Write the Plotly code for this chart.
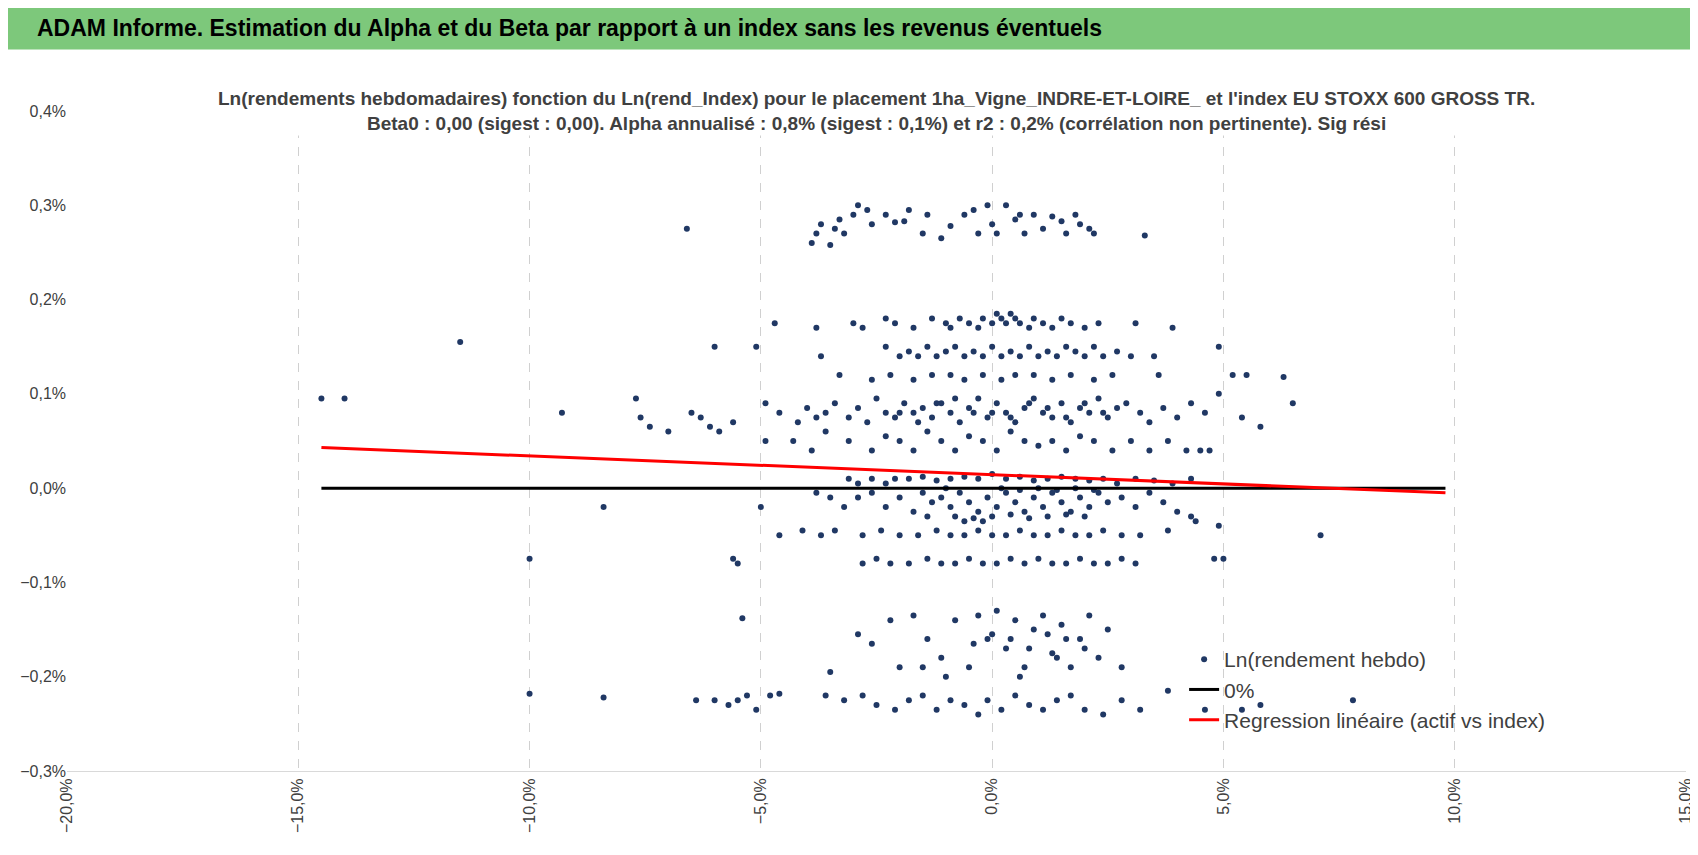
import plotly.graph_objects as go

# Ln(rendement hebdo) points, read by horizontal band (x = index return %, y = asset return %)
x_band_030 = [-6.6, -3.9, -3.8, -3.7, -3.5, -3.4, -3.3, -3.2, -3.0, -2.9, -2.7, -2.6, -2.3, -2.1, -1.9, -1.8, -1.5, -1.4,
              -1.1, -0.9, -0.6, -0.4, -0.3, -0.1, 0.0, 0.1, 0.3, 0.5, 0.6, 0.7, 0.9, 1.1, 1.3, 1.5, 1.6, 1.8, 1.9, 2.1, 2.2, 3.3]
y_band_030 = [0.275, 0.26, 0.27, 0.28, 0.258, 0.275, 0.285, 0.27, 0.29, 0.3, 0.295, 0.28, 0.29, 0.282, 0.283, 0.295, 0.27, 0.29,
              0.265, 0.278, 0.29, 0.295, 0.27, 0.3, 0.28, 0.27, 0.3, 0.285, 0.29, 0.27, 0.29, 0.275, 0.288, 0.283, 0.27, 0.29, 0.28, 0.275, 0.27, 0.268]

x_band_017 = [-11.5, -4.7, -3.8, -3.0, -2.8, -2.3, -2.1, -1.7, -1.3, -1.0, -0.9, -0.7, -0.5, -0.3, -0.2, 0.0, 0.1, 0.2, 0.3,
              0.4, 0.5, 0.6, 0.8, 0.9, 1.1, 1.3, 1.5, 1.7, 2.0, 2.3, 3.1, 3.9]
y_band_017 = [0.155, 0.175, 0.17, 0.175, 0.17, 0.18, 0.175, 0.17, 0.18, 0.175, 0.17, 0.18, 0.175, 0.17, 0.18, 0.175, 0.185, 0.18, 0.175,
              0.185, 0.18, 0.175, 0.17, 0.18, 0.175, 0.17, 0.18, 0.175, 0.17, 0.175, 0.175, 0.17]

x_band_014 = [-6.0, -5.1, -3.7, -2.3, -2.0, -1.8, -1.6, -1.4, -1.2, -1.0, -0.8, -0.6, -0.4, -0.2, 0.0, 0.2, 0.4, 0.6, 0.8, 1.0,
              1.2, 1.4, 1.6, 1.8, 2.0, 2.2, 2.4, 2.7, 3.0, 3.5, 4.9, 5.2, 6.3]
y_band_014 = [0.15, 0.15, 0.14, 0.15, 0.14, 0.145, 0.14, 0.15, 0.14, 0.145, 0.15, 0.14, 0.145, 0.14, 0.15, 0.14, 0.145, 0.14, 0.15, 0.14,
              0.145, 0.14, 0.15, 0.145, 0.14, 0.15, 0.14, 0.145, 0.14, 0.14, 0.15, 0.12, 0.118]

x_band_012 = [-3.3, -2.6, -2.2, -1.7, -1.3, -0.9, -0.6, -0.2, 0.2, 0.5, 0.9, 1.3, 1.7, 2.2, 2.6, 3.6, 4.9, 5.5]
y_band_012 = [0.12, 0.115, 0.12, 0.115, 0.12, 0.12, 0.115, 0.12, 0.115, 0.12, 0.12, 0.115, 0.12, 0.115, 0.12, 0.12, 0.1, 0.12]

x_band_008 = [-14.5, -14.0, -9.3, -7.7, -7.6, -7.4, -7.0, -6.5, -6.3, -6.1, -5.9, -5.6, -4.9, -4.6, -4.2, -4.0, -3.8, -3.6, -3.4,
              -3.1, -2.9, -2.7, -2.5, -2.3, -2.1, -1.9, -1.7, -1.5, -1.3, -1.1, -0.9, -0.7, -0.5, -0.3, -0.1, 0.1, 0.3,
              0.5, 0.7, 0.9, 1.1, 1.3, 1.5, 1.7, 1.9, 2.1, 2.3, 2.5, 2.7, 2.9, 3.2, 3.4, 3.7, 4.0, 4.3, 4.6, 5.4, 5.8, 6.5,
              -2.0, -1.2, -0.4, 0.4, 1.2, 2.0, -1.6, -0.8, 0.0, 0.8, 1.6, 2.4]
y_band_008 = [0.095, 0.095, 0.08, 0.095, 0.075, 0.065, 0.06, 0.08, 0.075, 0.065, 0.06, 0.07, 0.09, 0.08, 0.07, 0.085, 0.075, 0.08, 0.09,
              0.075, 0.085, 0.07, 0.095, 0.08, 0.075, 0.09, 0.08, 0.085, 0.075, 0.09, 0.08, 0.07, 0.085, 0.095, 0.075, 0.09, 0.08,
              0.07, 0.085, 0.095, 0.08, 0.075, 0.09, 0.07, 0.085, 0.08, 0.095, 0.075, 0.085, 0.09, 0.08, 0.07, 0.085, 0.075, 0.09, 0.08, 0.075, 0.065, 0.09,
              0.08, 0.09, 0.08, 0.075, 0.085, 0.09, 0.07, 0.095, 0.08, 0.09, 0.075, 0.08]

x_band_005 = [-4.9, -4.3, -3.9, -3.6, -3.1, -2.6, -2.3, -2.0, -1.7, -1.4, -1.1, -0.8, -0.5, -0.2, 0.1, 0.4, 0.7, 1.0, 1.3,
              1.6, 1.9, 2.2, 2.6, 3.0, 3.4, 3.8, 4.2, 4.5, 4.7]
y_band_005 = [0.05, 0.05, 0.04, 0.06, 0.05, 0.04, 0.055, 0.05, 0.04, 0.06, 0.05, 0.04, 0.055, 0.05, 0.04, 0.06, 0.05, 0.045, 0.05,
              0.04, 0.055, 0.05, 0.04, 0.05, 0.04, 0.05, 0.04, 0.04, 0.04]

x_band_001 = [-3.1, -2.9, -2.6, -2.3, -2.1, -1.8, -1.5, -1.2, -0.9, -0.6, -0.3, 0.0, 0.3, 0.6, 0.9, 1.2, 1.5, 1.8, 2.1, 2.4,
              2.7, 3.1, 3.5, 3.9, 4.3]
y_band_001 = [0.01, 0.005, 0.01, 0.005, 0.01, 0.01, 0.012, 0.008, 0.01, 0.012, 0.01, 0.015, 0.01, 0.012, 0.008, 0.01, 0.012, 0.01, 0.008, 0.01,
              0.005, 0.01, 0.008, 0.005, 0.01]

x_band_m002 = [-8.4, -5.0, -3.8, -3.5, -3.2, -2.9, -2.6, -2.3, -2.0, -1.7, -1.5, -1.3, -1.1, -0.9, -0.7, -0.5, -0.3, -0.1, 0.1,
               0.3, 0.5, 0.7, 0.9, 1.1, 1.3, 1.5, 1.7, 1.9, 2.1, 2.3, 2.5, 2.8, 3.1, 3.4, 3.7, 4.0, 4.3,
               -1.4, -0.8, -0.4, 0.0, 0.4, 0.8, 1.2, 1.6, 2.0, -1.0, 0.2, 0.6, 1.0, 1.4, 1.8, 2.2, -0.6, -0.2]
y_band_m002 = [-0.02, -0.02, -0.005, -0.01, -0.02, -0.01, -0.005, -0.02, -0.01, -0.025, -0.005, -0.015, -0.01, -0.02, -0.005, -0.015, -0.025, -0.01, -0.02,
               -0.005, -0.015, -0.025, -0.01, -0.02, -0.005, -0.015, -0.025, -0.01, -0.02, -0.005, -0.015, -0.01, -0.02, -0.005, -0.015, -0.025, -0.03,
               -0.03, -0.03, -0.032, -0.03, -0.028, -0.032, -0.03, -0.028, -0.03, 0.0, 0.0, -0.002, 0.0, -0.002, 0.0, -0.002, -0.035, -0.035]

x_band_m005 = [-4.6, -4.1, -3.7, -3.4, -2.8, -2.4, -2.0, -1.6, -1.2, -0.9, -0.6, -0.3, 0.0, 0.3, 0.6, 0.9, 1.2, 1.5, 1.8, 2.1,
               2.4, 2.8, 3.2, 3.8, 4.4, 4.9, 7.1]
y_band_m005 = [-0.05, -0.045, -0.05, -0.045, -0.05, -0.045, -0.05, -0.05, -0.045, -0.05, -0.05, -0.045, -0.05, -0.05, -0.045, -0.05, -0.05, -0.045, -0.05, -0.05,
               -0.045, -0.05, -0.05, -0.045, -0.035, -0.04, -0.05]

x_band_m008 = [-10.0, -5.6, -5.5, -2.8, -2.5, -2.2, -1.8, -1.4, -1.1, -0.8, -0.5, -0.2, 0.1, 0.4, 0.7, 1.0, 1.3, 1.6, 1.9, 2.2,
               2.5, 2.8, 3.1, 4.8, 5.0]
y_band_m008 = [-0.075, -0.075, -0.08, -0.08, -0.075, -0.08, -0.08, -0.075, -0.08, -0.08, -0.075, -0.08, -0.08, -0.075, -0.08, -0.075, -0.08, -0.08, -0.075, -0.08,
               -0.08, -0.075, -0.08, -0.075, -0.075]

x_band_m016 = [-5.4, -3.5, -2.9, -2.6, -2.2, -2.0, -1.7, -1.4, -1.1, -0.8, -0.5, -0.3, -0.1, 0.1, 0.3, 0.5, 0.7, 0.9, 1.1,
               1.3, 1.5, 1.7, 1.9, 2.1, 2.3, 2.5, 2.8, -0.4, 0.0, 0.4, 0.8, 1.2, 1.6, 2.0, -1.5, -1.0, 0.6, 1.4]
y_band_m016 = [-0.138, -0.195, -0.155, -0.165, -0.14, -0.19, -0.135, -0.16, -0.18, -0.14, -0.19, -0.135, -0.16, -0.13, -0.17, -0.14, -0.19, -0.15, -0.135,
               -0.175, -0.145, -0.19, -0.16, -0.135, -0.18, -0.15, -0.19, -0.165, -0.155, -0.16, -0.17, -0.155, -0.16, -0.17, -0.19, -0.2, -0.2, -0.18]

x_band_m022 = [-10.0, -8.4, -6.4, -6.0, -5.7, -5.5, -5.3, -5.1, -4.8, -4.6, -3.6, -3.2, -2.8, -2.5, -2.1, -1.8, -1.5, -1.2,
               -0.9, -0.6, -0.3, -0.1, 0.2, 0.5, 0.8, 1.1, 1.4, 1.7, 2.0, 2.4, 2.8, 3.2, 3.8, 4.6, 5.4, 5.8, 7.8]
y_band_m022 = [-0.218, -0.222, -0.225, -0.225, -0.23, -0.225, -0.22, -0.235, -0.22, -0.218, -0.22, -0.225, -0.22, -0.23, -0.235, -0.225, -0.22, -0.235,
               -0.225, -0.23, -0.24, -0.225, -0.235, -0.22, -0.23, -0.235, -0.225, -0.22, -0.235, -0.24, -0.225, -0.235, -0.215, -0.235, -0.235, -0.23, -0.225]

x_rend = (x_band_030 + x_band_017 + x_band_014 + x_band_012 + x_band_008 + x_band_005 + x_band_001
          + x_band_m002 + x_band_m005 + x_band_m008 + x_band_m016 + x_band_m022)
y_rend = (y_band_030 + y_band_017 + y_band_014 + y_band_012 + y_band_008 + y_band_005 + y_band_001
          + y_band_m002 + y_band_m005 + y_band_m008 + y_band_m016 + y_band_m022)

# zero line and regression line ends
line_x = [-14.5, 9.8]
zero_y = [0.0, 0.0]
reg_y = [0.043, -0.005]

fig = go.Figure()
fig.add_trace(go.Scatter(x=[v / 100 for v in x_rend], y=[v / 100 for v in y_rend], mode="markers",
                         name="Ln(rendement hebdo)", marker=dict(color="#203864", size=6)))
fig.add_trace(go.Scatter(x=[v / 100 for v in line_x], y=[v / 100 for v in zero_y], mode="lines",
                         name="0%", line=dict(color="black", width=3)))
fig.add_trace(go.Scatter(x=[v / 100 for v in line_x], y=[v / 100 for v in reg_y], mode="lines",
                         name="Regression linéaire (actif vs index)", line=dict(color="#FF0000", width=3)))

font = "Liberation Sans Narrow, Liberation Sans, Arial"
fig.update_layout(
    width=1698, height=855, separators=", ",
    paper_bgcolor="white", plot_bgcolor="white",
    margin=dict(l=56, r=14, t=103, b=92),
    font=dict(family=font, color="#404040", size=15),
    xaxis=dict(range=[-0.20, 0.15], dtick=0.05, tickformat=".1%", tickangle=-90,
               showgrid=True, gridcolor="#D0D0D0", griddash="dash", zeroline=False,
               showline=True, linecolor="#D9D9D9", tickfont=dict(size=16, color="#404040")),
    yaxis=dict(range=[-0.003, 0.004], dtick=0.001, tickformat=".1%", showgrid=False,
               zeroline=False, showline=False, tickfont=dict(size=16, color="#404040")),
    legend=dict(x=0.69, y=0.2, xanchor="left", yanchor="top", bgcolor="rgba(255,255,255,0)",
                font=dict(size=21, color="#404040"), tracegroupgap=14),
    shapes=[dict(type="rect", xref="paper", yref="paper", x0=-0.04, x1=1.01, y0=1.093, y1=1.158,
                 fillcolor="#7DC87B", line=dict(width=0), layer="below")],
    annotations=[
        dict(text="<b>ADAM Informe. Estimation du Alpha et du Beta par rapport à un index sans les revenus éventuels</b>",
             xref="paper", yref="paper", x=-0.02, y=1.126, xanchor="left", yanchor="middle",
             showarrow=False, font=dict(size=23, color="black", family=font)),
        dict(text="<b>Ln(rendements hebdomadaires) fonction du Ln(rend_Index) pour le placement 1ha_Vigne_INDRE-ET-LOIRE_ et l'index EU STOXX 600 GROSS TR.<br>"
                  "Beta0 : 0,00 (sigest : 0,00). Alpha annualisé : 0,8% (sigest : 0,1%) et r2 : 0,2% (corrélation non pertinente). Sig rési</b>",
             xref="paper", yref="paper", x=0.5, y=1.0, xanchor="center", yanchor="middle",
             showarrow=False, bgcolor="white", font=dict(size=19, color="#404040", family=font)),
    ],
)

fig.write_html("out.html")
